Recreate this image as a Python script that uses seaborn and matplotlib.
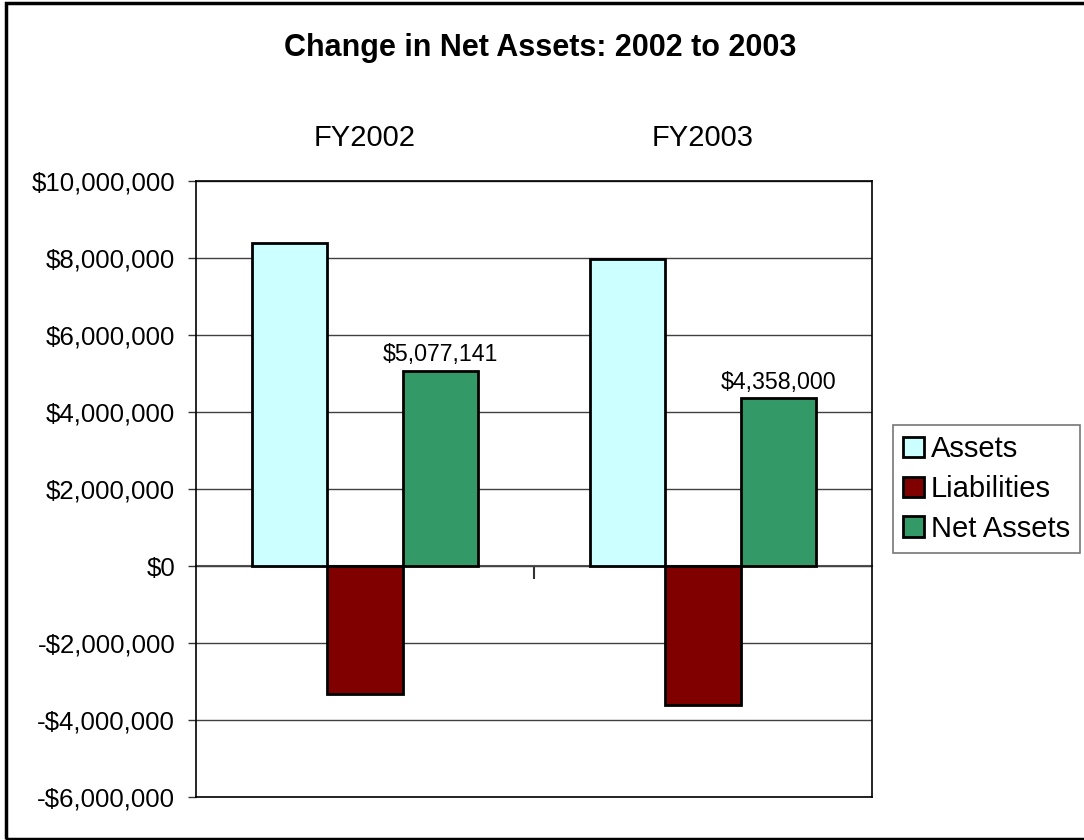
import matplotlib
matplotlib.use("Agg")
import matplotlib.pyplot as plt
from matplotlib.patches import Rectangle
from matplotlib.ticker import FuncFormatter, FixedLocator
import seaborn as sns
import pandas as pd

# Balance-sheet figures by fiscal year
years = ["FY2002", "FY2003"]
series = ["Assets", "Liabilities", "Net Assets"]
assets = [8395000, 7965000]
liabilities = [-3317859, -3607000]
net_assets = [5077141, 4358000]
y_ticks = [-6000000, -4000000, -2000000, 0, 2000000, 4000000, 6000000, 8000000, 10000000]
colors = ["#CCFFFF", "#800000", "#339966"]

rows = []
for i, yr in enumerate(years):
    for name, vals in zip(series, [assets, liabilities, net_assets]):
        rows.append({"Year": yr, "Series": name, "Value": vals[i]})
df = pd.DataFrame(rows)

sns.set_style("white")
plt.rcParams["font.family"] = ["Liberation Sans", "DejaVu Sans"]
plt.rcParams["text.color"] = "black"
plt.rcParams["xtick.color"] = "black"
plt.rcParams["ytick.color"] = "black"
plt.rcParams["axes.labelcolor"] = "black"

FS_Y = 18.6
FS_CAT = 21
FS_LEG = 21
FS_VAL = 16.7

fig = plt.figure(figsize=(10.84, 8.4), dpi=100)
ax = fig.add_axes([196 / 1084, 1 - 797 / 840, 676 / 1084, 616 / 840])

sns.barplot(data=df, x="Year", y="Value", hue="Series", order=years,
            hue_order=series, palette=colors, width=0.67, gap=0,
            edgecolor="black", linewidth=2, saturation=1, ax=ax, zorder=3)

money = lambda v: ("-$" if v < 0 else "$") + f"{abs(int(v)):,}"

ax.set_ylim(y_ticks[0], y_ticks[-1])
ax.set_xlim(-0.5, len(years) - 0.5)
ax.yaxis.set_major_locator(FixedLocator(y_ticks))
ax.yaxis.set_major_formatter(FuncFormatter(lambda v, p: money(v)))
ax.tick_params(axis="y", which="major", left=True, length=6, width=1,
               color="#333333", labelsize=FS_Y, pad=9)
ax.yaxis.grid(True, color="#404040", linewidth=1)
ax.set_axisbelow(True)

# Category labels along the top
ax.xaxis.tick_top()
ax.tick_params(axis="x", length=0, labelsize=FS_CAT, pad=21)
ax.set_xlabel("")
ax.set_ylabel("")
for s in ax.spines.values():
    s.set_color("black")
    s.set_linewidth(1.2)

# Category axis crossing at zero with a divider tick between years
frac0 = (0 - y_ticks[0]) / (y_ticks[-1] - y_ticks[0])
sec = ax.secondary_xaxis(frac0)
sec.set_xticks([0.5])
sec.tick_params(length=9, width=1.5, color="#333333", labelbottom=False)
sec.spines["bottom"].set_color("#555555")
sec.spines["bottom"].set_linewidth(1.5)

# Value labels on the net assets bars
net_container = ax.containers[2]
ax.bar_label(net_container, labels=[money(v) for v in net_assets],
             fontsize=FS_VAL, padding=3)

# Legend
leg = ax.legend(loc="center left", bbox_to_anchor=(893 / 1084, 1 - 489 / 840),
                bbox_transform=fig.transFigure, frameon=True, fancybox=False,
                fontsize=FS_LEG, handlelength=0.7, handleheight=0.7,
                handletextpad=0.25, labelspacing=0.4, borderpad=0.35,
                borderaxespad=0, title=None)
leg.get_frame().set_edgecolor("#555555")
leg.get_frame().set_linewidth(1.2)

fig.text(540 / 1084, 1 - 48 / 840, "Change in Net Assets: 2002 to 2003",
         ha="center", va="center", fontsize=22, fontweight="bold")

# Chart border
fig.add_artist(Rectangle((6 / 1084, 1 / 840), 1.2, 836 / 840,
                         transform=fig.transFigure, fill=False,
                         edgecolor="black", linewidth=2.5))

fig.savefig("out.png", dpi=100)
